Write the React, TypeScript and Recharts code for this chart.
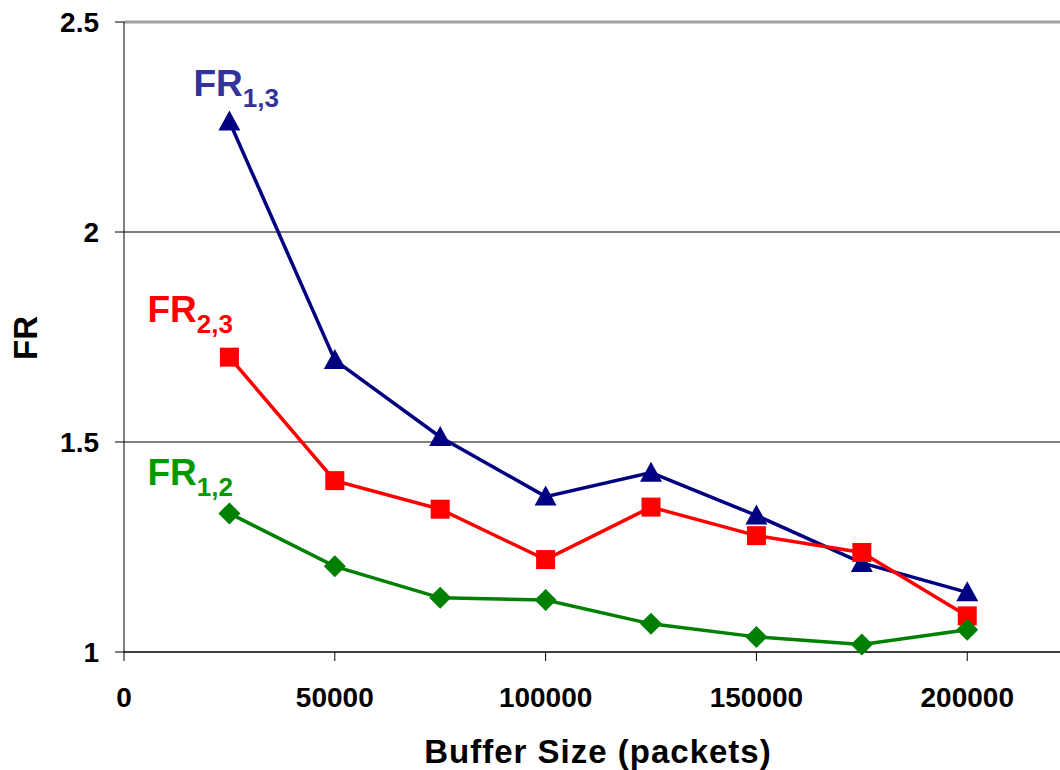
import { LineChart, Line, XAxis, YAxis, CartesianGrid, ReferenceLine, Label } from "recharts";

const bufferSizes = [25000, 50000, 75000, 100000, 125000, 150000, 175000, 200000];
const fr13 = [2.263, 1.695, 1.512, 1.37, 1.427, 1.325, 1.212, 1.142];
const fr23 = [1.702, 1.408, 1.34, 1.22, 1.345, 1.277, 1.237, 1.086];
const fr12 = [1.33, 1.204, 1.129, 1.124, 1.067, 1.036, 1.018, 1.053];
const xTicks = [0, 50000, 100000, 150000, 200000];
const yTicks = [1, 1.5, 2, 2.5];

const data = bufferSizes.map((b, i) => ({ buffer: b, fr13: fr13[i], fr23: fr23[i], fr12: fr12[i] }));

const FONT = "'Liberation Sans', Arial, sans-serif";

function Triangle(props: any) {
  const { cx, cy, fill } = props;
  if (cx == null || cy == null) return null;
  return <path d={`M${cx},${cy - 11} L${cx + 11},${cy + 9} L${cx - 11},${cy + 9} Z`} fill={fill} />;
}

function Square(props: any) {
  const { cx, cy, fill } = props;
  if (cx == null || cy == null) return null;
  return <rect x={cx - 9.5} y={cy - 9.5} width={19} height={19} fill={fill} />;
}

function Diamond(props: any) {
  const { cx, cy, fill } = props;
  if (cx == null || cy == null) return null;
  return <path d={`M${cx},${cy - 11} L${cx + 11},${cy} L${cx},${cy + 11} L${cx - 11},${cy} Z`} fill={fill} />;
}

// series name next to the first point
function seriesLabel(main: string, sub: string, color: string, dx: number, dy: number) {
  return (props: any) => {
    if (props.index !== 0) return null;
    return (
      <text x={props.x + dx} y={props.y + dy} fill={color} fontFamily={FONT} fontWeight="bold" fontSize={37}>
        {main}
        <tspan fontSize={26} dy={11}>{sub}</tspan>
      </text>
    );
  };
}

export default function App() {
  return (
    <div style={{ position: "absolute", left: 0, top: 0, background: "#fff" }}>
      <LineChart width={1060} height={770} data={data} margin={{ top: 22, right: 0, left: 0, bottom: 0 }}>
        <CartesianGrid vertical={false} stroke="#000" strokeOpacity={1} />
        <ReferenceLine y={2.5} stroke="#a0a0a0" strokeWidth={3} />
        <XAxis
          dataKey="buffer"
          type="number"
          domain={[0, 222000]}
          ticks={xTicks}
          allowDataOverflow
          height={118}
          tickSize={9}
          tickMargin={26}
          stroke="#000"
          tick={{ fill: "#000", fontSize: 28, fontWeight: "bold", fontFamily: FONT }}
        >
          <Label
            content={(p: any) => (
              <text
                x={p.viewBox.x + p.viewBox.width / 2 + 6}
                y={763}
                textAnchor="middle"
                fontFamily={FONT}
                fontWeight="bold"
                fontSize={33}
                letterSpacing={1}
                fill="#000"
              >
                Buffer Size (packets)
              </text>
            )}
          />
        </XAxis>
        <YAxis
          type="number"
          domain={[1, 2.5]}
          ticks={yTicks}
          width={124}
          tickSize={9}
          tickMargin={16}
          stroke="#000"
          tick={{ fill: "#000", fontSize: 28, fontWeight: "bold", fontFamily: FONT }}
        >
          <Label
            content={() => (
              <text
                x={37}
                y={338}
                transform="rotate(-90 37 338)"
                textAnchor="middle"
                fontFamily={FONT}
                fontWeight="bold"
                fontSize={33}
                fill="#000"
              >
                FR
              </text>
            )}
          />
        </YAxis>
        <Line
          dataKey="fr13"
          stroke="#000080"
          strokeWidth={3.5}
          fill="#000080"
          dot={<Triangle fill="#000080" />}
          label={seriesLabel("FR", "1,3", "#333399", -36, -26)}
          isAnimationActive={false}
        />
        <Line
          dataKey="fr23"
          stroke="#ff0000"
          strokeWidth={3.5}
          fill="#ff0000"
          dot={<Square fill="#ff0000" />}
          label={seriesLabel("FR", "2,3", "#ff0000", -82, -35)}
          isAnimationActive={false}
        />
        <Line
          dataKey="fr12"
          stroke="#008000"
          strokeWidth={3.5}
          fill="#008000"
          dot={<Diamond fill="#008000" />}
          label={seriesLabel("FR", "1,2", "#009900", -82, -28)}
          isAnimationActive={false}
        />
      </LineChart>
    </div>
  );
}
